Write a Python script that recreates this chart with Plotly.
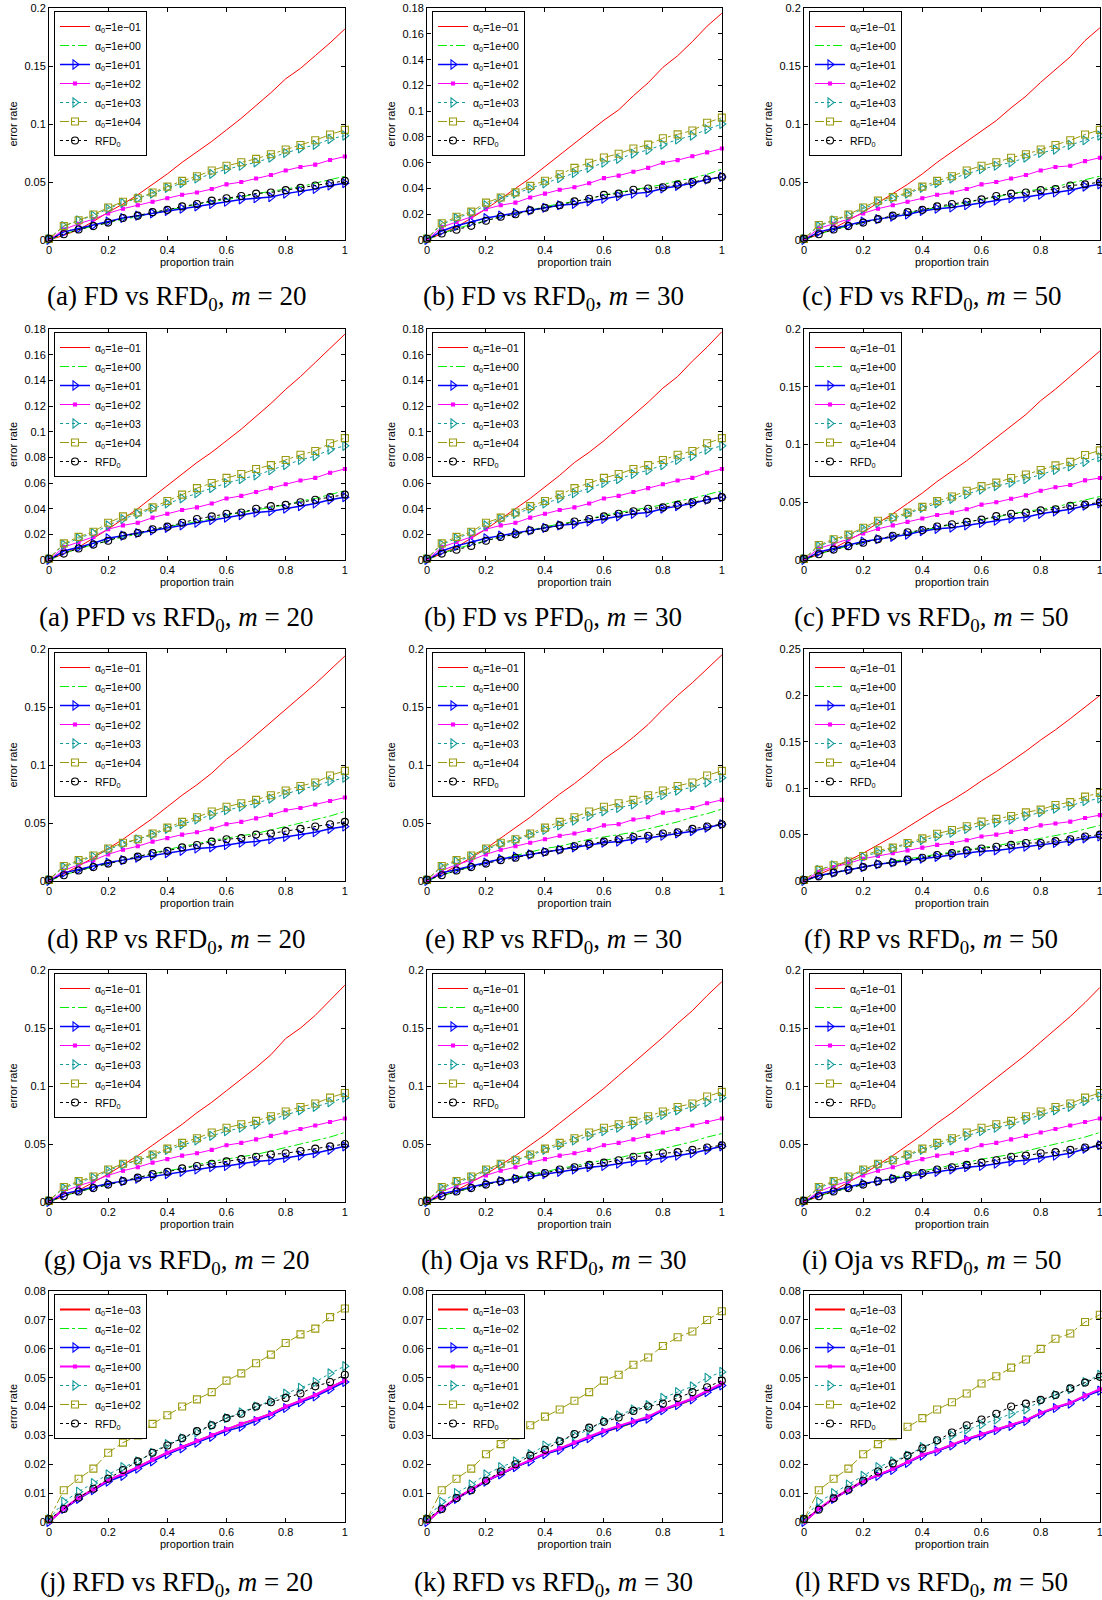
import plotly.graph_objects as go

# ---------------- data ----------------
PROP_TRAIN = [0, 0.05, 0.1, 0.15, 0.2, 0.25, 0.3, 0.35, 0.4, 0.45, 0.5,
              0.55, 0.6, 0.65, 0.7, 0.75, 0.8, 0.85, 0.9, 0.95, 1.0]
X_TICKS = [0, 0.2, 0.4, 0.6, 0.8, 1]
X_TICK_TEXT = ["0", "0.2", "0.4", "0.6", "0.8", "1"]

LABELS_HI = ["α<sub>0</sub>=1e−01", "α<sub>0</sub>=1e+00", "α<sub>0</sub>=1e+01",
             "α<sub>0</sub>=1e+02", "α<sub>0</sub>=1e+03", "α<sub>0</sub>=1e+04", "RFD<sub>0</sub>"]
LABELS_LO = ["α<sub>0</sub>=1e−03", "α<sub>0</sub>=1e−02", "α<sub>0</sub>=1e−01",
             "α<sub>0</sub>=1e+00", "α<sub>0</sub>=1e+01", "α<sub>0</sub>=1e+02", "RFD<sub>0</sub>"]

# FD vs RFD0, m=20
FD20_R = [0, .004, .009, .016, .024, .031, .039, .048, .057, .067, .076, .085, .095, .105, .116, .127, .139, .148, .159, .170, .182]
FD20_G = [0, .005, .009, .012, .015, .018, .020, .023, .026, .028, .031, .033, .035, .037, .040, .042, .044, .046, .049, .052, .055]
FD20_B = [0, .007, .010, .013, .016, .019, .021, .023, .025, .027, .029, .031, .033, .035, .036, .037, .040, .042, .044, .047, .049]
FD20_M = [0, .009, .014, .018, .023, .027, .030, .033, .036, .039, .041, .044, .048, .050, .053, .056, .060, .063, .065, .069, .072]
FD20_C = [.001, .012, .017, .021, .027, .032, .036, .040, .045, .049, .053, .057, .061, .064, .067, .071, .075, .079, .082, .087, .090]
FD20_Y = [.001, .012, .017, .022, .028, .033, .036, .041, .046, .051, .055, .060, .064, .067, .070, .074, .078, .082, .086, .091, .095]
FD20_K = [.001, .005, .009, .012, .015, .019, .021, .024, .026, .029, .031, .034, .036, .038, .040, .041, .043, .045, .047, .049, .051]
# FD vs RFD0, m=30
FD30_R = [0, .005, .010, .017, .024, .032, .040, .048, .057, .066, .075, .084, .093, .101, .112, .122, .134, .143, .154, .166, .176]
FD30_G = [0, .005, .009, .012, .015, .018, .020, .023, .026, .028, .030, .032, .035, .037, .039, .041, .043, .046, .048, .051, .055]
FD30_B = [0, .007, .011, .014, .017, .019, .021, .023, .025, .027, .028, .030, .032, .034, .036, .037, .040, .042, .044, .047, .049]
FD30_M = [0, .010, .014, .018, .024, .027, .029, .033, .036, .039, .041, .044, .048, .050, .053, .056, .060, .062, .065, .068, .071]
FD30_C = [.001, .012, .017, .021, .027, .032, .036, .040, .044, .048, .052, .056, .060, .063, .067, .070, .074, .078, .081, .086, .090]
FD30_Y = [.001, .013, .018, .022, .029, .033, .037, .042, .046, .051, .056, .060, .064, .067, .071, .074, .079, .082, .085, .091, .095]
FD30_K = [.001, .005, .008, .011, .015, .018, .020, .023, .025, .027, .030, .032, .035, .036, .039, .040, .041, .043, .045, .047, .049]
# FD vs RFD0, m=50
FD50_R = [0, .005, .010, .017, .024, .032, .040, .048, .057, .067, .076, .085, .094, .103, .114, .124, .136, .147, .158, .172, .183]
FD50_G = [0, .005, .009, .012, .015, .018, .020, .023, .026, .028, .030, .032, .035, .037, .040, .042, .044, .046, .049, .052, .055]
FD50_B = [0, .007, .010, .013, .016, .018, .020, .022, .025, .027, .028, .030, .032, .034, .036, .037, .039, .041, .043, .046, .048]
FD50_M = [0, .010, .014, .018, .023, .027, .030, .033, .036, .039, .041, .044, .048, .050, .053, .056, .060, .063, .064, .068, .071]
FD50_C = [.001, .012, .017, .021, .027, .032, .036, .040, .045, .049, .053, .057, .061, .064, .067, .071, .075, .078, .082, .086, .090]
FD50_Y = [.001, .013, .017, .022, .028, .034, .037, .041, .046, .051, .055, .060, .064, .067, .071, .074, .078, .082, .086, .091, .095]
FD50_K = [.001, .005, .009, .012, .015, .018, .021, .024, .026, .029, .031, .033, .035, .038, .040, .041, .043, .044, .047, .048, .050]
# PFD vs RFD0, m=20
PFD20_R = [0, .005, .010, .017, .024, .032, .040, .049, .058, .067, .076, .084, .093, .102, .112, .122, .133, .143, .154, .165, .176]
PFD20_G = [0, .005, .009, .012, .015, .018, .020, .023, .026, .028, .030, .032, .035, .037, .039, .041, .043, .046, .048, .051, .054]
PFD20_B = [0, .007, .010, .013, .017, .019, .021, .023, .025, .027, .029, .031, .033, .035, .037, .038, .040, .042, .044, .047, .049]
PFD20_M = [0, .010, .014, .018, .024, .027, .029, .033, .036, .039, .041, .044, .048, .050, .053, .056, .059, .062, .064, .068, .071]
PFD20_C = [.001, .012, .017, .021, .027, .032, .036, .040, .044, .048, .052, .056, .060, .063, .066, .070, .074, .078, .081, .086, .089]
PFD20_Y = [.001, .013, .018, .022, .029, .034, .037, .041, .046, .051, .056, .060, .064, .067, .071, .074, .078, .082, .085, .091, .095]
PFD20_K = [.001, .005, .009, .012, .015, .019, .021, .024, .026, .029, .032, .034, .036, .037, .040, .042, .043, .045, .047, .049, .051]
# FD vs PFD0, m=30
FDPFD30_R = [0, .005, .010, .017, .024, .032, .040, .048, .057, .066, .076, .084, .093, .103, .113, .123, .134, .143, .155, .166, .178]
FDPFD30_G = [0, .005, .009, .012, .015, .018, .020, .023, .026, .028, .030, .032, .035, .037, .039, .041, .043, .046, .048, .051, .054]
FDPFD30_B = [0, .007, .011, .014, .017, .019, .021, .023, .025, .027, .028, .030, .032, .034, .036, .037, .040, .042, .044, .047, .049]
FDPFD30_M = [0, .010, .014, .018, .024, .027, .029, .033, .036, .039, .041, .044, .048, .050, .053, .056, .059, .062, .064, .068, .071]
FDPFD30_C = [.001, .012, .017, .021, .027, .032, .036, .040, .044, .048, .052, .056, .060, .063, .067, .070, .074, .078, .081, .086, .089]
FDPFD30_Y = [.001, .013, .018, .022, .029, .033, .037, .042, .046, .051, .056, .060, .064, .067, .071, .074, .078, .082, .085, .091, .095]
FDPFD30_K = [.001, .005, .008, .011, .015, .018, .020, .023, .025, .027, .030, .032, .034, .036, .038, .040, .041, .043, .045, .047, .049]
# PFD vs RFD0, m=50
PFD50_R = [0, .005, .010, .017, .024, .032, .040, .049, .058, .068, .077, .086, .096, .106, .116, .126, .138, .148, .159, .170, .181]
PFD50_G = [0, .005, .009, .012, .015, .018, .020, .023, .026, .028, .031, .033, .035, .037, .040, .042, .044, .046, .049, .052, .055]
PFD50_B = [0, .007, .010, .013, .016, .018, .020, .022, .025, .027, .028, .030, .032, .034, .036, .037, .040, .042, .044, .047, .049]
PFD50_M = [0, .010, .014, .018, .023, .027, .030, .033, .036, .039, .041, .044, .048, .050, .053, .056, .060, .063, .065, .069, .071]
PFD50_C = [.001, .012, .017, .021, .027, .032, .036, .040, .045, .049, .053, .057, .061, .064, .067, .070, .074, .078, .081, .085, .089]
PFD50_Y = [.001, .013, .018, .022, .028, .034, .037, .041, .046, .051, .055, .060, .064, .067, .071, .074, .078, .082, .085, .091, .095]
PFD50_K = [.001, .005, .009, .012, .015, .018, .021, .024, .026, .029, .031, .033, .035, .038, .040, .041, .043, .044, .047, .048, .050]
# RP vs RFD0, m=20
RP20_R = [0, .006, .013, .020, .028, .036, .045, .054, .064, .074, .083, .093, .105, .115, .126, .137, .148, .159, .170, .182, .194]
RP20_G = [0, .005, .009, .012, .015, .018, .021, .024, .027, .030, .032, .035, .037, .039, .041, .044, .047, .050, .053, .056, .060]
RP20_B = [0, .007, .010, .013, .016, .018, .020, .022, .024, .026, .028, .029, .031, .033, .034, .036, .038, .040, .042, .045, .047]
RP20_M = [0, .009, .014, .018, .023, .027, .030, .034, .037, .040, .042, .045, .049, .051, .054, .057, .061, .063, .066, .069, .072]
RP20_C = [.001, .012, .017, .021, .027, .032, .036, .040, .045, .049, .053, .057, .061, .064, .067, .071, .075, .079, .082, .086, .089]
RP20_Y = [.001, .013, .018, .022, .028, .033, .036, .041, .046, .051, .055, .060, .064, .067, .070, .074, .078, .082, .085, .091, .095]
RP20_K = [.001, .005, .009, .012, .015, .018, .021, .024, .026, .029, .031, .034, .036, .037, .040, .041, .043, .045, .047, .049, .051]
# RP vs RFD0, m=30
RP30_R = [0, .006, .013, .020, .028, .037, .046, .055, .065, .075, .084, .094, .105, .114, .124, .135, .148, .160, .171, .183, .195]
RP30_G = [0, .005, .009, .012, .016, .019, .022, .025, .028, .030, .033, .036, .038, .040, .042, .045, .048, .051, .055, .058, .062]
RP30_B = [0, .007, .010, .013, .016, .019, .021, .023, .025, .027, .029, .031, .033, .034, .036, .037, .039, .041, .043, .046, .049]
RP30_M = [0, .009, .014, .018, .023, .027, .030, .033, .036, .039, .041, .044, .048, .049, .053, .055, .059, .061, .063, .067, .070]
RP30_C = [.001, .012, .017, .021, .027, .032, .035, .040, .044, .048, .052, .056, .060, .063, .066, .070, .074, .078, .081, .085, .089]
RP30_Y = [.001, .013, .018, .022, .028, .033, .036, .041, .046, .051, .055, .060, .064, .067, .070, .074, .078, .082, .085, .091, .095]
RP30_K = [.001, .005, .009, .012, .015, .018, .020, .023, .025, .027, .030, .032, .034, .036, .038, .039, .041, .042, .045, .047, .049]
# RP vs RFD0, m=50
RP50_R = [0, .007, .014, .022, .030, .039, .048, .058, .068, .078, .087, .097, .108, .118, .129, .140, .152, .163, .175, .187, .200]
RP50_G = [0, .005, .009, .012, .015, .018, .021, .024, .026, .029, .031, .034, .036, .038, .041, .043, .046, .049, .052, .056, .060]
RP50_B = [0, .006, .009, .012, .015, .018, .020, .022, .024, .026, .028, .030, .032, .033, .035, .037, .039, .041, .043, .046, .048]
RP50_M = [0, .010, .015, .019, .024, .027, .030, .033, .036, .039, .041, .044, .048, .050, .053, .056, .060, .062, .064, .068, .071]
RP50_C = [.001, .012, .017, .021, .026, .031, .035, .040, .044, .048, .052, .056, .060, .063, .066, .070, .074, .078, .081, .086, .089]
RP50_Y = [.001, .012, .017, .021, .027, .033, .036, .041, .046, .051, .055, .059, .064, .067, .070, .074, .077, .082, .085, .091, .095]
RP50_K = [.001, .005, .009, .012, .015, .018, .020, .023, .025, .028, .030, .033, .035, .037, .039, .041, .041, .043, .045, .048, .050]
# Oja vs RFD0, m=20
OJA20_R = [0, .005, .010, .017, .024, .032, .040, .049, .058, .067, .077, .086, .096, .106, .116, .127, .141, .150, .161, .174, .187]
OJA20_G = [0, .005, .009, .012, .015, .018, .021, .024, .027, .029, .032, .035, .037, .039, .041, .044, .047, .050, .053, .056, .060]
OJA20_B = [0, .007, .010, .013, .016, .018, .020, .022, .024, .026, .028, .030, .031, .033, .035, .036, .038, .040, .042, .045, .048]
OJA20_M = [0, .009, .014, .018, .023, .027, .030, .034, .037, .040, .042, .045, .049, .051, .054, .057, .060, .063, .066, .069, .072]
OJA20_C = [.001, .012, .017, .021, .027, .032, .036, .040, .045, .049, .053, .057, .061, .064, .067, .071, .075, .079, .082, .086, .090]
OJA20_Y = [.001, .013, .018, .022, .028, .033, .036, .041, .046, .051, .055, .060, .064, .067, .070, .074, .078, .082, .085, .090, .094]
OJA20_K = [.001, .005, .009, .012, .015, .018, .021, .024, .026, .029, .031, .033, .035, .037, .039, .041, .042, .044, .046, .048, .050]
# Oja vs RFD0, m=30
OJA30_R = [0, .005, .010, .017, .024, .032, .040, .049, .058, .068, .078, .088, .098, .109, .120, .131, .142, .154, .165, .178, .190]
OJA30_G = [0, .005, .009, .012, .015, .018, .021, .024, .026, .029, .031, .034, .036, .038, .041, .043, .046, .049, .052, .056, .059]
OJA30_B = [0, .007, .010, .013, .016, .018, .020, .022, .024, .026, .028, .030, .031, .033, .035, .036, .038, .040, .042, .045, .048]
OJA30_M = [0, .009, .014, .018, .023, .027, .030, .034, .037, .040, .042, .045, .049, .051, .054, .057, .060, .063, .066, .069, .072]
OJA30_C = [.001, .012, .017, .021, .027, .032, .036, .040, .045, .049, .053, .057, .061, .064, .067, .071, .075, .079, .082, .086, .090]
OJA30_Y = [.001, .013, .018, .022, .028, .033, .036, .041, .046, .051, .055, .060, .064, .067, .070, .074, .078, .082, .085, .091, .095]
OJA30_K = [.001, .005, .009, .012, .015, .018, .020, .023, .025, .028, .030, .032, .034, .036, .039, .040, .042, .043, .045, .047, .049]
# Oja vs RFD0, m=50
OJA50_R = [0, .005, .010, .017, .024, .032, .040, .049, .058, .068, .077, .087, .097, .107, .117, .127, .138, .149, .160, .172, .185]
OJA50_G = [0, .005, .009, .012, .015, .018, .021, .024, .027, .029, .032, .034, .037, .039, .041, .044, .047, .050, .053, .056, .060]
OJA50_B = [0, .007, .010, .013, .016, .018, .020, .022, .024, .026, .028, .030, .031, .033, .035, .036, .038, .040, .042, .046, .049]
OJA50_M = [0, .009, .014, .018, .023, .027, .030, .034, .037, .040, .042, .045, .049, .051, .054, .057, .060, .063, .066, .069, .072]
OJA50_C = [.001, .012, .017, .021, .027, .032, .036, .040, .045, .049, .053, .057, .061, .064, .067, .071, .075, .079, .082, .087, .091]
OJA50_Y = [.001, .013, .018, .022, .028, .033, .036, .041, .046, .051, .055, .060, .064, .067, .070, .074, .078, .082, .085, .090, .094]
OJA50_K = [.001, .005, .009, .012, .015, .018, .020, .023, .025, .028, .030, .032, .034, .036, .039, .040, .042, .043, .045, .047, .049]
# RFD vs RFD0, m=20
RFD20_R = [0, .0047, .0083, .0113, .0143, .0165, .0190, .0215, .0240, .0260, .0280, .0300, .0320, .0340, .0355, .0375, .0400, .0420, .0440, .0465, .0490]
RFD20_G = [0, .0046, .0082, .0112, .0142, .0166, .0189, .0214, .0239, .0259, .0279, .0298, .0318, .0338, .0354, .0373, .0398, .0418, .0438, .0463, .0488]
RFD20_B = [0, .0045, .0080, .0110, .0140, .0160, .0185, .0210, .0235, .0255, .0275, .0295, .0315, .0330, .0350, .0370, .0395, .0415, .0435, .0460, .0485]
RFD20_M = [0, .0047, .0084, .0113, .0145, .0167, .0190, .0216, .0240, .0260, .0281, .0301, .0321, .0340, .0356, .0374, .0400, .0420, .0440, .0466, .0490]
RFD20_C = [.001, .0070, .0105, .0135, .0165, .0190, .0210, .0240, .0270, .0290, .0310, .0335, .0360, .0380, .0400, .0420, .0445, .0465, .0485, .0515, .0540]
RFD20_Y = [.001, .0110, .0150, .0185, .0240, .0275, .0300, .0340, .0370, .0400, .0425, .0450, .0490, .0515, .0550, .0580, .0620, .0650, .0670, .0710, .0740]
RFD20_K = [.001, .0045, .0085, .0115, .0150, .0180, .0210, .0240, .0265, .0290, .0315, .0335, .0360, .0375, .0400, .0415, .0430, .0445, .0470, .0485, .0510]
# RFD vs RFD0, m=30
RFD30_R = [0, .0046, .0082, .0112, .0142, .0167, .0191, .0213, .0237, .0253, .0273, .0293, .0313, .0328, .0345, .0362, .0388, .0405, .0425, .0452, .0477]
RFD30_G = [0, .0045, .0081, .0111, .0141, .0166, .0190, .0212, .0236, .0252, .0272, .0292, .0312, .0327, .0344, .0361, .0387, .0404, .0424, .0451, .0476]
RFD30_B = [0, .0045, .0080, .0110, .0140, .0165, .0190, .0210, .0235, .0250, .0270, .0290, .0310, .0330, .0345, .0358, .0387, .0405, .0425, .0450, .0473]
RFD30_M = [0, .0047, .0083, .0112, .0143, .0168, .0192, .0215, .0238, .0255, .0275, .0295, .0316, .0333, .0348, .0365, .0390, .0408, .0428, .0455, .0480]
RFD30_C = [.001, .0070, .0100, .0130, .0165, .0190, .0210, .0235, .0265, .0280, .0300, .0320, .0350, .0370, .0390, .0405, .0430, .0450, .0470, .0500, .0520]
RFD30_Y = [.001, .0110, .0150, .0185, .0235, .0270, .0300, .0335, .0365, .0390, .0420, .0450, .0490, .0510, .0545, .0570, .0610, .0640, .0660, .0700, .0730]
RFD30_K = [.001, .0045, .0083, .0110, .0143, .0175, .0200, .0230, .0250, .0280, .0305, .0327, .0347, .0362, .0385, .0400, .0410, .0430, .0450, .0467, .0490]
# RFD vs RFD0, m=50
RFD50_R = [0, .0045, .0081, .0111, .0141, .0162, .0183, .0207, .0232, .0247, .0267, .0287, .0303, .0320, .0335, .0352, .0377, .0396, .0412, .0437, .0458]
RFD50_G = [0, .0044, .0080, .0110, .0140, .0161, .0182, .0206, .0231, .0246, .0266, .0286, .0302, .0319, .0334, .0351, .0376, .0395, .0411, .0436, .0457]
RFD50_B = [0, .0045, .0080, .0110, .0140, .0160, .0180, .0205, .0230, .0245, .0265, .0285, .0300, .0318, .0333, .0350, .0375, .0395, .0410, .0435, .0455]
RFD50_M = [0, .0046, .0082, .0112, .0142, .0163, .0184, .0208, .0233, .0248, .0268, .0288, .0304, .0321, .0336, .0353, .0378, .0397, .0413, .0438, .0460]
RFD50_C = [.001, .0070, .0100, .0130, .0160, .0190, .0210, .0230, .0260, .0280, .0300, .0320, .0338, .0355, .0375, .0390, .0420, .0440, .0460, .0485, .0510]
RFD50_Y = [.001, .0110, .0150, .0185, .0235, .0270, .0297, .0330, .0360, .0390, .0415, .0445, .0480, .0505, .0535, .0563, .0600, .0635, .0653, .0693, .0718]
RFD50_K = [.001, .0043, .0082, .0112, .0143, .0175, .0203, .0230, .0255, .0283, .0310, .0335, .0355, .0375, .0400, .0410, .0423, .0440, .0463, .0483, .0503]

# panels: (caption, y max, y tick step, legend labels, series)
PANELS = [
    ("(a) FD vs RFD<sub>0</sub>, <i>m</i> = 20", 0.2, 0.05, LABELS_HI, [FD20_R, FD20_G, FD20_B, FD20_M, FD20_C, FD20_Y, FD20_K]),
    ("(b) FD vs RFD<sub>0</sub>, <i>m</i> = 30", 0.18, 0.02, LABELS_HI, [FD30_R, FD30_G, FD30_B, FD30_M, FD30_C, FD30_Y, FD30_K]),
    ("(c) FD vs RFD<sub>0</sub>, <i>m</i> = 50", 0.2, 0.05, LABELS_HI, [FD50_R, FD50_G, FD50_B, FD50_M, FD50_C, FD50_Y, FD50_K]),
    ("(a) PFD vs RFD<sub>0</sub>, <i>m</i> = 20", 0.18, 0.02, LABELS_HI, [PFD20_R, PFD20_G, PFD20_B, PFD20_M, PFD20_C, PFD20_Y, PFD20_K]),
    ("(b) FD vs PFD<sub>0</sub>, <i>m</i> = 30", 0.18, 0.02, LABELS_HI, [FDPFD30_R, FDPFD30_G, FDPFD30_B, FDPFD30_M, FDPFD30_C, FDPFD30_Y, FDPFD30_K]),
    ("(c) PFD vs RFD<sub>0</sub>, <i>m</i> = 50", 0.2, 0.05, LABELS_HI, [PFD50_R, PFD50_G, PFD50_B, PFD50_M, PFD50_C, PFD50_Y, PFD50_K]),
    ("(d) RP vs RFD<sub>0</sub>, <i>m</i> = 20", 0.2, 0.05, LABELS_HI, [RP20_R, RP20_G, RP20_B, RP20_M, RP20_C, RP20_Y, RP20_K]),
    ("(e) RP vs RFD<sub>0</sub>, <i>m</i> = 30", 0.2, 0.05, LABELS_HI, [RP30_R, RP30_G, RP30_B, RP30_M, RP30_C, RP30_Y, RP30_K]),
    ("(f) RP vs RFD<sub>0</sub>, <i>m</i> = 50", 0.25, 0.05, LABELS_HI, [RP50_R, RP50_G, RP50_B, RP50_M, RP50_C, RP50_Y, RP50_K]),
    ("(g) Oja vs RFD<sub>0</sub>, <i>m</i> = 20", 0.2, 0.05, LABELS_HI, [OJA20_R, OJA20_G, OJA20_B, OJA20_M, OJA20_C, OJA20_Y, OJA20_K]),
    ("(h) Oja vs RFD<sub>0</sub>, <i>m</i> = 30", 0.2, 0.05, LABELS_HI, [OJA30_R, OJA30_G, OJA30_B, OJA30_M, OJA30_C, OJA30_Y, OJA30_K]),
    ("(i) Oja vs RFD<sub>0</sub>, <i>m</i> = 50", 0.2, 0.05, LABELS_HI, [OJA50_R, OJA50_G, OJA50_B, OJA50_M, OJA50_C, OJA50_Y, OJA50_K]),
    ("(j) RFD vs RFD<sub>0</sub>, <i>m</i> = 20", 0.08, 0.01, LABELS_LO, [RFD20_R, RFD20_G, RFD20_B, RFD20_M, RFD20_C, RFD20_Y, RFD20_K]),
    ("(k) RFD vs RFD<sub>0</sub>, <i>m</i> = 30", 0.08, 0.01, LABELS_LO, [RFD30_R, RFD30_G, RFD30_B, RFD30_M, RFD30_C, RFD30_Y, RFD30_K]),
    ("(l) RFD vs RFD<sub>0</sub>, <i>m</i> = 50", 0.08, 0.01, LABELS_LO, [RFD50_R, RFD50_G, RFD50_B, RFD50_M, RFD50_C, RFD50_Y, RFD50_K]),
]

# ---------------- styles / geometry ----------------
W, H = 1102, 1600
COL_L = [49, 427, 804]
COL_R = [345, 722, 1100]
ROW_T = [8, 329, 649, 970, 1291]
ROW_B = [240, 560, 881, 1202, 1522]
CAP_X = [176, 553, 931]
CAP_Y = [298, 619, 941, 1262, 1584]

SANS = "Liberation Sans, Arial, sans-serif"
SERIF = "Liberation Serif, Times New Roman, serif"

STYLES = [
    dict(color="#ff0000", dash="solid", width=1.0, symbol=None, size=0),
    dict(color="#00ee00", dash="dashdot", width=1.0, symbol=None, size=0),
    dict(color="#0000ff", dash="solid", width=1.5, symbol="triangle-right-open", size=8),
    dict(color="#ff00ff", dash="solid", width=1.0, symbol="square", size=3),
    dict(color="#139a9a", dash="dot", width=1.0, symbol="triangle-right-open", size=8),
    dict(color="#9a9a10", dash="dashdot", width=1.0, symbol="square-open", size=7),
    dict(color="#000000", dash="dot", width=1.0, symbol="circle-open", size=7),
]


def px_x(v):
    return v / W


def px_y(v):
    return 1 - v / H


fig = go.Figure()
layout = dict(
    width=W, height=H,
    margin=dict(l=0, r=0, t=0, b=0),
    paper_bgcolor="white", plot_bgcolor="white",
    showlegend=True,
    annotations=[],
)

for i, (caption, ymax, ystep, labels, series) in enumerate(PANELS):
    r, c = divmod(i, 3)
    n = "" if i == 0 else str(i + 1)
    leg = "legend" if i == 0 else "legend%d" % (i + 1)
    bottom_row = (r == 4)
    for j, (lab, vals) in enumerate(zip(labels, series)):
        st = STYLES[j]
        w = st["width"]
        if bottom_row and j in (0, 3):
            w = 2.0
        mode = "lines" if st["symbol"] is None else "lines+markers"
        tr = dict(
            x=PROP_TRAIN, y=vals, name=lab, mode=mode,
            line=dict(color=st["color"], dash=st["dash"], width=w),
            xaxis="x" + n, yaxis="y" + n, legend=leg, cliponaxis=False,
            hoverinfo="skip",
        )
        if st["symbol"] is not None:
            tr["marker"] = dict(symbol=st["symbol"], size=st["size"], color=st["color"],
                                line=dict(width=1.1, color=st["color"]))
        fig.add_trace(go.Scatter(**tr))

    nt = int(round(ymax / ystep))
    yt = [round(k * ystep, 4) for k in range(nt + 1)]
    ytt = [("%g" % v) for v in yt]

    axcommon = dict(
        showline=True, linecolor="black", linewidth=1, mirror="ticks",
        ticks="inside", ticklen=4, tickwidth=1, tickcolor="black",
        showgrid=False, zeroline=False, automargin=False,
        ticklabeloverflow="allow",
        tickfont=dict(family=SANS, size=11, color="black"),
    )
    layout["xaxis" + n] = dict(
        axcommon,
        domain=[px_x(COL_L[c]), px_x(COL_R[c])],
        anchor="y" + n, range=[0, 1.0005],
        tickvals=X_TICKS, ticktext=X_TICK_TEXT,
        title=dict(text="proportion train", font=dict(family=SANS, size=11, color="black"), standoff=2),
    )
    layout["yaxis" + n] = dict(
        axcommon,
        domain=[px_y(ROW_B[r]), px_y(ROW_T[r])],
        anchor="x" + n, range=[0, ymax * 1.0005],
        tickvals=yt, ticktext=ytt,
        title=dict(text="error rate", font=dict(family=SANS, size=11, color="black"), standoff=4),
    )
    layout[leg] = dict(
        x=px_x(COL_L[c] + 5), y=px_y(ROW_T[r] + 3),
        xanchor="left", yanchor="top",
        bgcolor="white", bordercolor="black", borderwidth=1,
        font=dict(family=SANS, size=10.5, color="black"),
        itemwidth=30, tracegroupgap=0,
    )
    layout["annotations"].append(dict(
        text=caption, x=px_x(CAP_X[c]), y=px_y(CAP_Y[r]),
        xref="paper", yref="paper", xanchor="center", yanchor="middle",
        showarrow=False, font=dict(family=SERIF, size=27, color="black"),
    ))

fig.update_layout(**layout)
fig.write_html(
    "out.html",
    config={"displayModeBar": False},
    post_script="document.body.style.margin='0';document.body.style.overflow='hidden';",
)
